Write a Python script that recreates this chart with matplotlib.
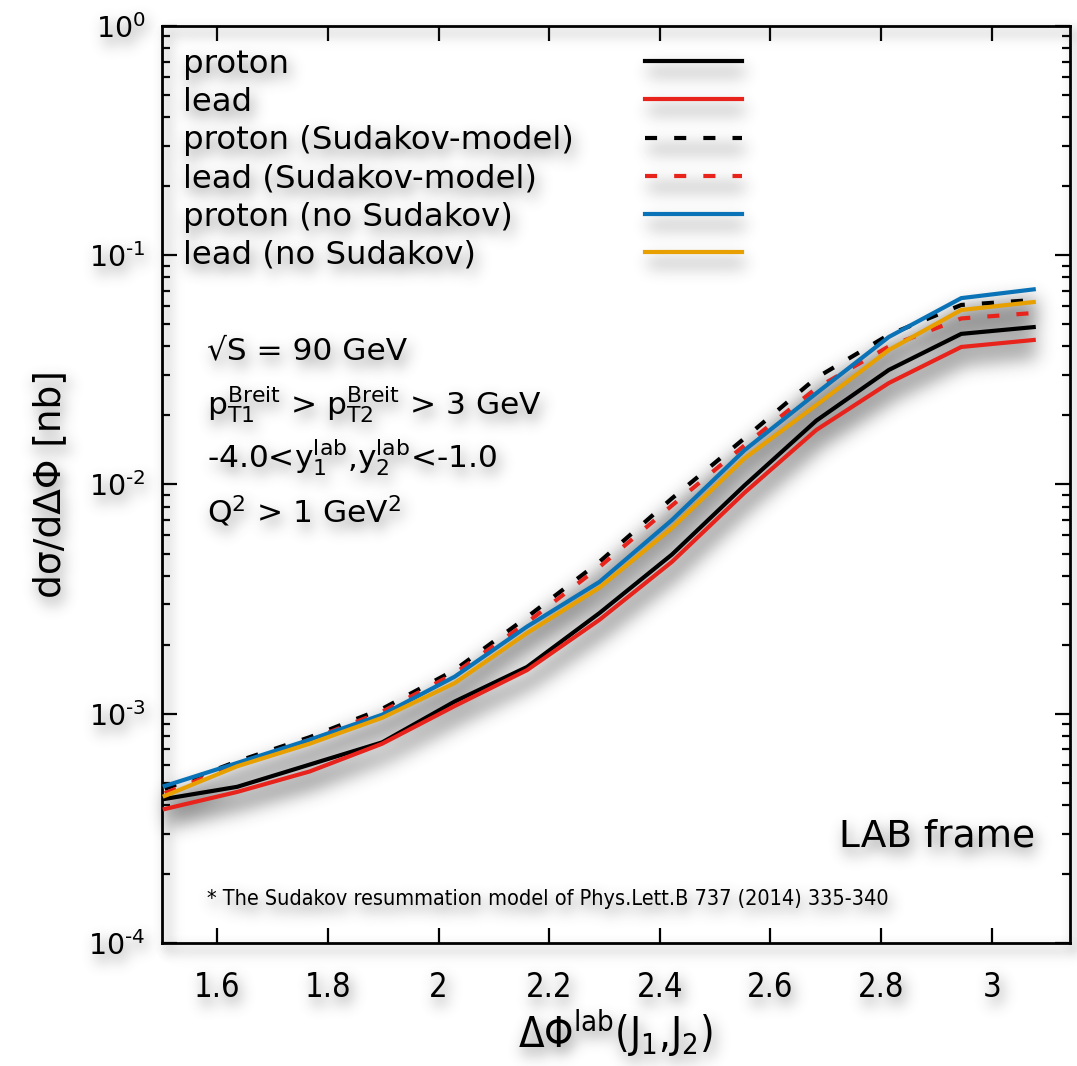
import numpy as np
import matplotlib
matplotlib.use("Agg")
import matplotlib.pyplot as plt
from matplotlib.collections import LineCollection

plt.rcParams['font.family'] = ['DejaVu Sans']
plt.rcParams['mathtext.fontset'] = 'dejavusans'
plt.rcParams['mathtext.default'] = 'regular'
plt.rcParams['axes.unicode_minus'] = False

# ---------------- data ----------------
dphi = [1.505, 1.636, 1.767, 1.898, 2.029, 2.160, 2.291, 2.422, 2.553, 2.683, 2.814, 2.945, 3.076]
proton = [4.25e-4, 4.8e-4, 6.0e-4, 7.5e-4, 1.13e-3, 1.6e-3, 2.75e-3, 4.95e-3, 9.9e-3, 1.9e-2, 3.16e-2, 4.54e-2, 4.86e-2]
lead = [3.84e-4, 4.56e-4, 5.6e-4, 7.4e-4, 1.08e-3, 1.55e-3, 2.57e-3, 4.6e-3, 9.2e-3, 1.73e-2, 2.77e-2, 3.98e-2, 4.27e-2]
proton_sud = [4.7e-4, 6.2e-4, 7.9e-4, 1.05e-3, 1.55e-3, 2.64e-3, 4.6e-3, 8.7e-3, 1.59e-2, 2.92e-2, 4.5e-2, 6.07e-2, 6.38e-2]
lead_sud = [4.5e-4, 6.0e-4, 7.7e-4, 1.02e-3, 1.5e-3, 2.5e-3, 4.37e-3, 8.1e-3, 1.48e-2, 2.63e-2, 4.0e-2, 5.3e-2, 5.6e-2]
proton_nosud = [4.84e-4, 6.1e-4, 7.7e-4, 9.9e-4, 1.45e-3, 2.4e-3, 3.76e-3, 7.0e-3, 1.41e-2, 2.5e-2, 4.4e-2, 6.5e-2, 7.1e-2]
lead_nosud = [4.38e-4, 5.9e-4, 7.4e-4, 9.6e-4, 1.36e-3, 2.25e-3, 3.55e-3, 6.46e-3, 1.3e-2, 2.22e-2, 3.86e-2, 5.77e-2, 6.25e-2]

labels = ['proton', 'lead', 'proton (Sudakov-model)', 'lead (Sudakov-model)',
          'proton (no Sudakov)', 'lead (no Sudakov)']
series = [proton, lead, proton_sud, lead_sud, proton_nosud, lead_nosud]
colors = ['#000000', '#e8231c', '#000000', '#e8231c', '#0a72b6', '#e8a000']
DASH = (0, (2.9, 4.1))
styles = ['-', '-', DASH, DASH, '-', '-']
draw_order = [2, 3, 0, 1, 4, 5]

xticks = [1.6, 1.8, 2.0, 2.2, 2.4, 2.6, 2.8, 3.0]
xticklabels = ['1.6', '1.8', '2', '2.2', '2.4', '2.6', '2.8', '3']
yticks = [1e-4, 1e-3, 1e-2, 1e-1, 1e0]
yticklabels = ['10$^{\u20104}$', '10$^{\u20103}$', '10$^{\u20102}$', '10$^{\u20101}$', '10$^{0}$']

cuts = ['√S = 90 GeV',
        'p$_{T1}^{Breit}$ > p$_{T2}^{Breit}$ > 3 GeV',
        '-4.0<y$_{1}^{lab}$,y$_{2}^{lab}$<-1.0',
        'Q$^{2}$ > 1 GeV$^{2}$']
footnote = '* The Sudakov resummation model of Phys.Lett.B 737 (2014) 335-340'


# ---------------- soft drop shadow (agg filter) ----------------
def blur(a, s):
    r = int(3 * s)
    k = np.exp(-0.5 * (np.arange(-r, r + 1) / s) ** 2)
    k /= k.sum()
    h, w = a.shape
    p = np.pad(a, ((r, r), (0, 0)))
    o = np.zeros_like(a)
    for i, kw in enumerate(k):
        o += kw * p[i:i + h]
    p = np.pad(o, ((0, 0), (r, r)))
    o2 = np.zeros_like(a)
    for i, kw in enumerate(k):
        o2 += kw * p[:, i:i + w]
    return o2


class Shadow:
    def __init__(self, sigma=5.0, dx=3, dy=5, alpha=0.8, color=(0.2, 0.2, 0.2), keep=True):
        self.sigma, self.dx, self.dy = sigma, dx, dy
        self.alpha, self.color, self.keep = alpha, np.array(color), keep

    def __call__(self, im, dpi):
        pad = int(3 * self.sigma) + max(abs(self.dx), abs(self.dy)) + 2
        src = np.pad(im, ((pad, pad), (pad, pad), (0, 0)))
        a = src[..., 3]
        sh = blur(a, self.sigma)
        sh = np.roll(np.roll(sh, self.dx, axis=1), self.dy, axis=0)
        sa = np.clip(sh * self.alpha, 0, 1)
        if self.keep:
            oa = a + (1 - a) * sa
            rgb = (src[..., :3] * a[..., None] + ((1 - a) * sa)[..., None] * self.color) \
                / np.maximum(oa, 1e-6)[..., None]
        else:
            oa = sa
            rgb = np.ones_like(src[..., :3]) * self.color
        out = np.dstack([rgb, oa])
        return np.clip(out, 0, 1), -pad, -pad


def text_shadow():
    return Shadow(sigma=7.0, dx=3, dy=7, alpha=0.75, color=(0.3, 0.3, 0.3), keep=True)


# ---------------- figure ----------------
fig = plt.figure(figsize=(10.77, 10.66), dpi=100)
ax = fig.add_axes([0.1504, 0.1154, 0.8431, 0.8602])
ax.set_yscale('log')
ax.set_xlim(1.5, 3.1416)
ax.set_ylim(1e-4, 1e0)

# shadow of all curves (one artist, so overlapping shadows do not stack)
segs = [np.column_stack([dphi, s]) for s in series]
lc = LineCollection(segs, colors='k', linewidths=7, zorder=1)
lc.set_agg_filter(Shadow(sigma=9.0, dx=3, dy=13, alpha=0.5, color=(0.15, 0.15, 0.15), keep=False))
ax.add_collection(lc)

for i in draw_order:
    ax.plot(dphi, series[i], color=colors[i], linestyle=styles[i], lw=3.0,
            solid_joinstyle='miter', zorder=3)

# key (gnuplot style: left aligned text, samples on the right)
key_y = np.array([0.9618, 0.9204, 0.8784, 0.8364, 0.7950, 0.7535])
kx0, kx1, ktx = 0.532, 0.6388, 0.0231
ksegs = [[(kx0, yy), (kx1, yy)] for yy in key_y]
klc = LineCollection(ksegs, colors='k', linewidths=6, transform=ax.transAxes, zorder=1)
klc.set_agg_filter(Shadow(sigma=8.0, dx=3, dy=11, alpha=0.35, color=(0.15, 0.15, 0.15), keep=False))
ax.add_collection(klc)
for lab, c, ls, yy in zip(labels, colors, styles, key_y):
    ax.plot([kx0, kx1], [yy, yy], color=c, ls=ls, lw=3.0, transform=ax.transAxes, zorder=3)
    t = ax.text(ktx, yy - 0.0128, lab, transform=ax.transAxes, fontsize=23.3,
                ha='left', va='baseline', zorder=4)
    t.set_agg_filter(text_shadow())

# cut annotations
cut_y = [0.6368, 0.5768, 0.5180, 0.4580]
for s, yy in zip(cuts, cut_y):
    t = ax.text(0.050, yy, s, transform=ax.transAxes, fontsize=22.5, ha='left',
                va='baseline', zorder=4)
    t.set_agg_filter(text_shadow())

t = ax.text(0.962, 0.1047, 'LAB frame', transform=ax.transAxes, fontsize=27,
            ha='right', va='baseline', zorder=4)
t.set_agg_filter(text_shadow())
t = ax.text(0.050, 0.0412, footnote, transform=ax.transAxes, fontsize=15.5,
            fontstretch='condensed', ha='left', va='baseline', zorder=4)
t.set_agg_filter(text_shadow())

# axes / ticks
ax.set_xticks(xticks, xticklabels)
ax.set_yticks(yticks, yticklabels)
ax.yaxis.set_minor_locator(matplotlib.ticker.LogLocator(base=10, subs=np.arange(2, 10), numticks=20))
ax.yaxis.set_minor_formatter(matplotlib.ticker.NullFormatter())
ax.tick_params(which='both', direction='in', top=True, right=True, width=1.6, colors='k')
ax.tick_params(which='major', length=11)
ax.tick_params(which='minor', length=6)
ax.tick_params(axis='x', labelsize=23.5, pad=20)
ax.tick_params(axis='y', labelsize=20.5, pad=12)
for lab in ax.get_xticklabels():
    lab.set_fontstretch('condensed')
    lab.set_agg_filter(text_shadow())
for lab in ax.get_yticklabels():
    lab.set_agg_filter(text_shadow())
for sp in ax.spines.values():
    sp.set_linewidth(2.0)
    sp.set_agg_filter(Shadow(sigma=6.0, dx=5, dy=6, alpha=0.3, color=(0.3, 0.3, 0.3), keep=True))

xl = ax.set_xlabel('ΔΦ$^{lab}$(J$_{1}$,J$_{2}$)', fontsize=30, fontstretch='condensed', labelpad=2)
xl.set_agg_filter(text_shadow())
yl = ax.set_ylabel('dσ/dΔΦ [nb]', fontsize=27, labelpad=14)
yl.set_agg_filter(text_shadow())

fig.savefig('out.png', dpi=100, facecolor='white')
